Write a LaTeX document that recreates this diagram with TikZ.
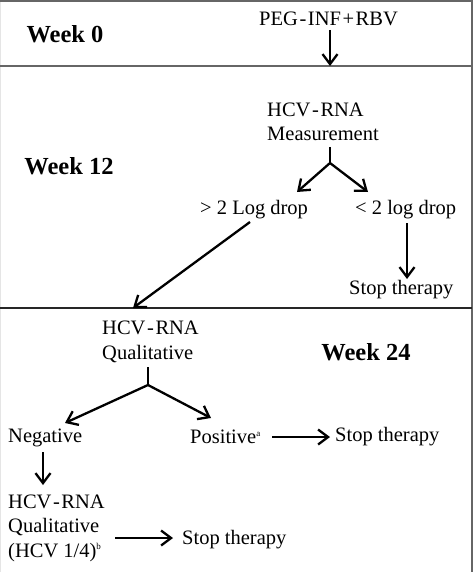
\documentclass[tikz,border=0pt]{standalone}
\usepackage{fontspec}
\setmainfont{Liberation Serif}
\usetikzlibrary{arrows.meta}
\newcommand{\tsp}{\hspace{1.6pt}}
\begin{document}
\begin{tikzpicture}[x=1pt,y=-1pt,
  txt/.style={inner sep=0pt,anchor=west,font=\fontsize{20.5}{24.5}\selectfont,align=left},
  wk/.style={inner sep=0pt,font=\fontsize{24.5}{28}\selectfont\bfseries},
  arr/.style={line width=2.3pt,-{Straight Barb[length=10pt,width=15pt,line width=2.3pt]}},
  ln/.style={line width=2.3pt},
  frame/.style={line width=2.2pt,draw=black!60}]
\useasboundingbox (0,0) rectangle (474,572);
% frame
\draw[line width=1pt,draw=black!10] (0.5,0) -- (0.5,572);
\draw[frame] (0,1) -- (472,1);
\draw[frame] (472,0) -- (472,572);
\draw[frame] (0,66) -- (472,66);
\draw[line width=2.2pt,draw=black!85] (0,308) -- (472,308);
% week labels
\node[wk] (w0) at (65,34) {Week 0};
\node[wk] (w12) at (69,166) {Week 12};
\node[wk] (w24) at (366,352) {Week 24};
% nodes
\node[txt] (peg) at (259,19) {PEG\tsp-\tsp INF\tsp+\tsp RBV};
\node[txt] (meas) at (267,122) {HCV\tsp-\tsp RNA\\Measurement};
\node[txt] (gt) at (200,210) {> 2 Log drop};
\node[txt] (lt) at (355,210) {< 2 log drop};
\node[txt] (stop1) at (349,290) {Stop therapy};
\node[txt] (qual) at (102,342) {HCV\tsp-\tsp RNA\\Qualitative};
\node[txt] (neg) at (8,438) {Negative};
\node[txt] (pos) at (190,437) {Positive\textsuperscript{\fontsize{9}{9}\selectfont a}};
\node[txt] (stop2) at (335,437) {Stop therapy};
\node[txt] (qual2) at (8,528) {HCV\tsp-\tsp RNA\\Qualitative\\(HCV 1/4)\textsuperscript{\fontsize{9}{9}\selectfont b}};
\node[txt] (stop3) at (182,540) {Stop therapy};
% connectors
\coordinate (line1) at (330,66);
\coordinate (s0) at (330,30);
\draw[arr] (s0) -- (line1);
\coordinate (f1) at (330,163);
\coordinate (f1s) at (330,147);
\draw[ln] (f1s) -- (f1);
\draw[arr] (f1) -- (297,192);
\draw[arr] (f1) -- (368,192);
\coordinate (a1s) at (407,223);
\coordinate (a1e) at (407,279);
\draw[arr] (a1s) -- (a1e);
\coordinate (d1s) at (250,222);
\coordinate (d1e) at (133,308);
\draw[arr] (d1s) -- (d1e);
\coordinate (f2) at (148,385);
\coordinate (f2s) at (148,367);
\draw[ln] (f2s) -- (f2);
\draw[arr] (f2) -- (65,423);
\draw[arr] (f2) -- (211,418);
\coordinate (p1) at (272,437);
\coordinate (p2) at (330,437);
\draw[arr] (p1) -- (p2);
\coordinate (n1) at (43,452);
\coordinate (n2) at (43,485);
\draw[arr] (n1) -- (n2);
\coordinate (q1) at (115,538);
\coordinate (q2) at (173,538);
\draw[arr] (q1) -- (q2);
\end{tikzpicture}
\end{document}
